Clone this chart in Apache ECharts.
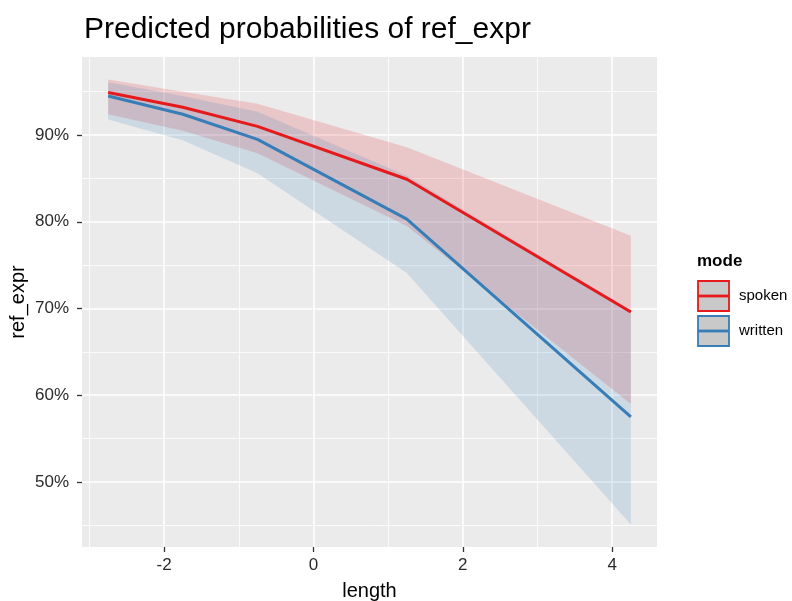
<!DOCTYPE html>
<html>
<head>
<meta charset="utf-8">
<script src="https://cdn.jsdelivr.net/npm/echarts@6/dist/echarts.min.js"></script>
<style>
  html, body { margin: 0; padding: 0; background: #ffffff; }
  #chart { width: 792px; height: 601px; }
</style>
</head>
<body>
<div id="chart"></div>
<script>
// Predicted probabilities (in %) of ref_expr by length, per mode
const lengthVals   = [-2.75, -1.75, -0.75, 1.25, 4.25];

const spokenFit    = [94.9, 93.2, 91.0, 84.9, 69.6];
const spokenLow    = [92.4, 90.5, 87.9, 79.5, 59.0];
const spokenHigh   = [96.4, 95.0, 93.6, 88.6, 78.4];

const writtenFit   = [94.5, 92.4, 89.5, 80.3, 57.5];
const writtenLow   = [91.8, 89.4, 85.6, 74.1, 45.1];
const writtenHigh  = [96.1, 94.5, 92.7, 85.3, 69.8];

const modeNames    = ['spoken', 'written'];

// Axis ticks and grid lines
const xMajorTicks  = [-2, 0, 2, 4];
const xMinorTicks  = [-3, -1, 1, 3];
const yMajorTicks  = [50, 60, 70, 80, 90];
const yMinorTicks  = [45, 55, 65, 75, 85, 95];

const RED  = '#E41A1C';
const BLUE = '#377EB8';
const FONT = '"Liberation Sans", Arial, Helvetica, sans-serif';

const pairs = ys => lengthVals.map((x, i) => [x, ys[i]]);
const bandRows = (lo, hi) => lengthVals.map((x, i) => [x, lo[i], hi[i]]);

// Confidence ribbon: one polygon through the upper bounds and back along the lower bounds
function bandSeries(name, lo, hi, color) {
  const rows = bandRows(lo, hi);
  return {
    name: name + '_band', type: 'custom', data: rows, silent: true, z: 2,
    encode: { x: 0, y: [1, 2] },
    renderItem: function (params, api) {
      if (params.dataIndex !== 0) return null;
      const upper = rows.map(r => api.coord([r[0], r[2]]));
      const lower = rows.map(r => api.coord([r[0], r[1]])).reverse();
      return {
        type: 'polygon',
        shape: { points: upper.concat(lower) },
        style: { fill: color, opacity: 0.17 }
      };
    }
  };
}

function gridLines(values, dim, width) {
  return values.map(v => ({ [dim]: v, lineStyle: { width: width } }));
}

const chart = echarts.init(document.getElementById('chart'), null, { renderer: 'canvas' });

chart.setOption({
  animation: false,
  backgroundColor: '#ffffff',
  title: {
    text: 'Predicted probabilities of ref_expr',
    left: 79, top: 10,
    textStyle: { fontFamily: FONT, fontSize: 30, fontWeight: 'normal', color: '#000000' }
  },
  grid: {
    left: 82, right: 135, top: 57, bottom: 54,
    outerBoundsMode: 'none', containLabel: false,
    show: true, backgroundColor: '#EBEBEB', borderWidth: 0
  },
  xAxis: {
    type: 'value', min: -3.1, max: 4.6,
    name: 'length', nameLocation: 'middle', nameGap: 34,
    nameTextStyle: { fontFamily: FONT, fontSize: 20, color: '#000000' },
    axisLine: { show: false, onZero: false },
    axisTick: { show: true, length: 5, customValues: xMajorTicks, lineStyle: { color: '#333333', width: 1.3 } },
    axisLabel: { customValues: xMajorTicks, margin: 10, fontFamily: FONT, fontSize: 17, color: '#2b2b2b' },
    splitLine: { show: false }
  },
  yAxis: {
    type: 'value', min: 42.5, max: 99.0,
    name: 'ref_expr', nameLocation: 'middle', nameGap: 54, nameRotate: 90, nameMoveOverlap: false,
    nameTextStyle: { fontFamily: FONT, fontSize: 20, color: '#000000' },
    axisLine: { show: false, onZero: false },
    axisTick: { show: true, length: 5, customValues: yMajorTicks, lineStyle: { color: '#333333', width: 1.3 } },
    axisLabel: { customValues: yMajorTicks, margin: 13, formatter: '{value}%', fontFamily: FONT, fontSize: 17, color: '#2b2b2b' },
    splitLine: { show: false }
  },
  series: [
    {
      name: 'grid', type: 'line', data: [], silent: true, z: 1,
      markLine: {
        silent: true, symbol: 'none', animation: false, z: 1,
        label: { show: false },
        lineStyle: { color: '#ffffff', type: 'solid', width: 0.8 },
        emphasis: { disabled: true },
        data: [
          ...gridLines(xMinorTicks, 'xAxis', 0.8),
          ...gridLines(yMinorTicks, 'yAxis', 0.8),
          ...gridLines(xMajorTicks, 'xAxis', 1.6),
          ...gridLines(yMajorTicks, 'yAxis', 1.6)
        ]
      }
    },
    bandSeries('spoken', spokenLow, spokenHigh, RED),
    bandSeries('written', writtenLow, writtenHigh, BLUE),
    {
      name: modeNames[0], type: 'line', data: pairs(spokenFit),
      showSymbol: false, z: 3, lineStyle: { color: RED, width: 3 }, itemStyle: { color: RED }
    },
    {
      name: modeNames[1], type: 'line', data: pairs(writtenFit),
      showSymbol: false, z: 3, lineStyle: { color: BLUE, width: 3 }, itemStyle: { color: BLUE }
    }
  ],
  graphic: [
    { type: 'text', left: 697, top: 253, style: { text: 'mode', fontFamily: FONT, fontSize: 17, fontWeight: 'bold', fill: '#000000' } },
    { type: 'rect', shape: { x: 698, y: 281, width: 31, height: 30 }, style: { fill: '#C9C9C9', stroke: RED, lineWidth: 1.8 } },
    { type: 'line', shape: { x1: 698, y1: 296, x2: 729, y2: 296 }, style: { stroke: RED, lineWidth: 2.8 } },
    { type: 'text', left: 739, top: 288, style: { text: modeNames[0], fontFamily: FONT, fontSize: 15, fill: '#000000' } },
    { type: 'rect', shape: { x: 698, y: 316, width: 31, height: 30 }, style: { fill: '#C9C9C9', stroke: BLUE, lineWidth: 1.8 } },
    { type: 'line', shape: { x1: 698, y1: 331, x2: 729, y2: 331 }, style: { stroke: BLUE, lineWidth: 2.8 } },
    { type: 'text', left: 739, top: 323, style: { text: modeNames[1], fontFamily: FONT, fontSize: 15, fill: '#000000' } }
  ]
});
</script>
</body>
</html>
